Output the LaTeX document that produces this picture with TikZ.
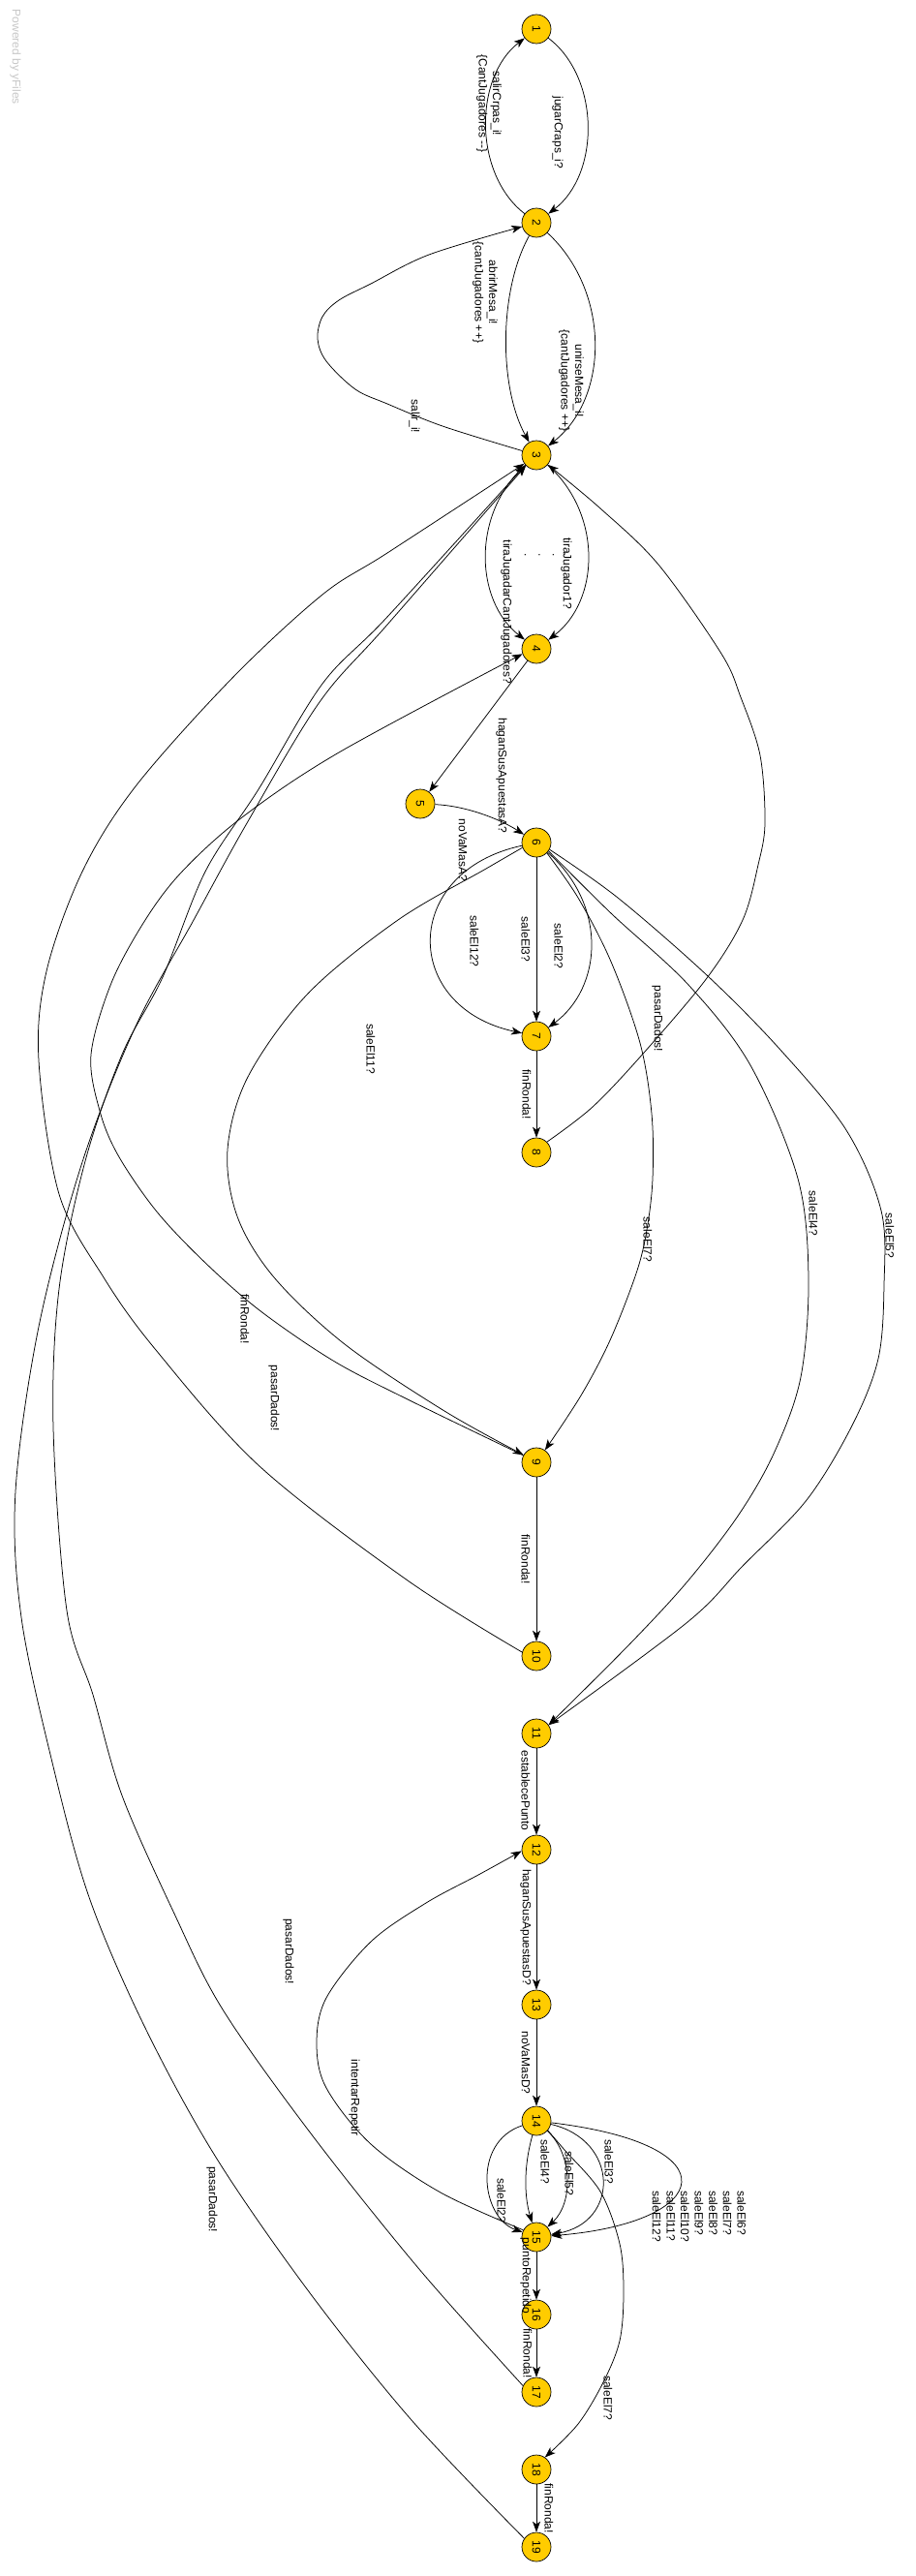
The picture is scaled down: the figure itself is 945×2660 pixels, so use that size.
\documentclass[tikz,border=0pt]{standalone}
\usepackage{fontspec}
\usepackage{graphicx}
\setmainfont{Liberation Sans}
\usetikzlibrary{arrows.meta}
\definecolor{stfill}{HTML}{FFCC00}
\definecolor{wmgrey}{HTML}{C8C8C8}
\newcommand\lblfont{\fontsize{12pt}{14.6pt}\selectfont}
\tikzset{
  st/.style={circle, draw=black, line width=0.7pt, fill=stfill, minimum size=30pt, inner sep=0pt, font=\lblfont},
  lbl/.style={rotate=-90, inner sep=0pt, font=\lblfont, align=center},
  arr/.style={draw=black, line width=0.75pt, -{Stealth[length=11pt,width=8pt,inset=3pt]}},
  sm/.style={smooth, tension=0.55}
}
\begin{document}
\begin{tikzpicture}[x=1pt,y=-1pt]
\fill[white] (0,0) rectangle (945,2660);
\useasboundingbox (0,0) rectangle (945,2660);

% watermark
\node[lbl, text=wmgrey] (wm) at (16,59) {Powered by yFiles};

% states
\node[st] (n1) at (554,30) {\rotatebox{-90}{1}};
\node[st] (n2) at (554,230) {\rotatebox{-90}{2}};
\node[st] (n3) at (554,470) {\rotatebox{-90}{3}};
\node[st] (n4) at (554,670) {\rotatebox{-90}{4}};
\node[st] (n5) at (434,830) {\rotatebox{-90}{5}};
\node[st] (n6) at (554,870) {\rotatebox{-90}{6}};
\node[st] (n7) at (554,1070) {\rotatebox{-90}{7}};
\node[st] (n8) at (554,1190) {\rotatebox{-90}{8}};
\node[st] (n9) at (554,1510) {\rotatebox{-90}{9}};
\node[st] (n10) at (554,1710) {\rotatebox{-90}{10}};
\node[st] (n11) at (554,1790) {\rotatebox{-90}{11}};
\node[st] (n12) at (554,1910) {\rotatebox{-90}{12}};
\node[st] (n13) at (554,2070) {\rotatebox{-90}{13}};
\node[st] (n14) at (554,2190) {\rotatebox{-90}{14}};
\node[st] (n15) at (554,2310) {\rotatebox{-90}{15}};
\node[st] (n16) at (554,2390) {\rotatebox{-90}{16}};
\node[st] (n17) at (554,2470) {\rotatebox{-90}{17}};
\node[st] (n18) at (554,2550) {\rotatebox{-90}{18}};
\node[st] (n19) at (554,2630) {\rotatebox{-90}{19}};

% edges
\draw[arr] (n1) .. controls (620,80) and (620,180) .. (n2);
\draw[arr] (n2) .. controls (489,180) and (489,80) .. (n1);
\draw[arr] (n2) .. controls (515,300) and (515,400) .. (n3);
\draw[arr] (n2) .. controls (630,300) and (630,410) .. (n3);
\draw[arr] plot[sm] coordinates {(n3.163) (457,440) (400,417) (367,402) (337,373) (328,350) (333,327) (350,310) (383,293) (443,263) (n2.195)};
\draw[arr] (n3) .. controls (622,530) and (620,620) .. (n4);
\draw[arr] (n3) .. controls (487,530) and (490,620) .. (n4);
\draw[arr] (n4) -- (n5);
\draw[arr] (n5) .. controls (480,832) and (515,845) .. (n6);
\draw[arr] (n6) -- (n7);
\draw[arr] (n6) .. controls (628,935) and (622,1020) .. (n7);
\draw[arr] (n6) .. controls (414,900) and (414,1040) .. (n7);
\draw[arr] (n7) -- (n8);
\draw[arr] plot[sm] coordinates {(n8.45) (612,1143) (665,1087) (730,1010) (767,950) (783,893) (790,850) (785,780) (765,720) (745,675) (680,583) (620,525) (n3.-40)};
\draw[arr] plot[sm] coordinates {(n6.-45) (597,927) (631,993) (661,1077) (673,1150) (674,1217) (668,1270) (657,1315) (630,1384) (600,1441) (n9.55)};
\draw[arr] plot[sm] coordinates {(n6.-35) (631,943) (711,1017) (775,1100) (824,1217) (835,1320) (827,1422) (800,1499) (763,1564) (710,1633) (650,1698) (n11.35)};
\draw[arr] plot[sm] coordinates {(n6.-28) (638,927) (730,1007) (805,1083) (874,1167) (910,1250) (913,1327) (907,1403) (880,1472) (833,1549) (767,1617) (710,1675) (n11.35)};
\draw[arr] plot[sm] coordinates {(n6.200) (502,897) (411,950) (318,1026) (256,1112) (235,1187) (245,1256) (283,1319) (356,1388) (459,1457) (n9.150)};
\draw[arr] plot[sm] coordinates {(n9.152) (421,1445) (344,1405) (268,1353) (210,1302) (161,1250) (122,1193) (103,1147) (94,1089) (115,1015) (150,950) (188,900) (250,844) (350,777) (n4.200)};
\draw[arr] (n9) -- (n10);
\draw[arr] plot[sm] coordinates {(n10.165) (421,1632) (268,1514) (161,1394) (107,1319) (61,1233) (40,1095) (48,1003) (85,900) (140,812) (240,700) (333,614) (400,571) (n3.215)};
\draw[arr] (n11) -- (n12);
\draw[arr] (n12) -- (n13);
\draw[arr] (n13) -- (n14);
\draw[arr] (n14) .. controls (487,2212) and (497,2290) .. (n15);
\draw[arr] (n14) .. controls (540,2240) and (542,2270) .. (n15);
\draw[arr] (n14) .. controls (592,2225) and (592,2275) .. (n15);
\draw[arr] (n14) .. controls (640,2210) and (640,2295) .. (n15);
\draw[arr] (n14) .. controls (760,2215) and (735,2295) .. (n15);
\draw[arr] plot[sm] coordinates {(n14.-40) (583,2220) (620,2263) (640,2317) (644,2367) (640,2417) (623,2460) (597,2503) (n18.55)};
\draw[arr] plot[sm] coordinates {(n15.152) (455,2264) (383,2214) (337,2156) (327,2110) (337,2063) (383,2005) (440,1965) (494,1936) (n12.185)};
\draw[arr] (n15) -- (n16);
\draw[arr] (n16) -- (n17);
\draw[arr] (n18) -- (n19);
\draw[arr] plot[sm] coordinates {(n17.155) (432,2342) (321,2203) (230,2075) (180,1976) (126,1854) (96,1750) (69,1663) (55,1474) (61,1331) (88,1199) (126,1089) (168,1009) (212,900) (267,815) (333,706) (400,637) (n3.222)};
\draw[arr] plot[sm] coordinates {(n19.145) (425,2499) (318,2365) (222,2226) (149,2092) (92,1959) (54,1820) (22,1670) (16,1540) (40,1370) (85,1200) (140,1060) (200,950) (255,850) (330,725) (400,645) (n3.225)};

% labels
\node[lbl] (l1) at (576,137) {jugarCraps\_i?};
\node[lbl] (l2) at (505,107) {salirCrpas\_i!\\\{CantJugadores -{}-\}};
\node[lbl] (l3) at (501,302) {abrirMesa\_i!\\\{cantJugadores ++\}};
\node[lbl] (l4) at (590,393) {unirseMesa\_i!\\\{cantJugadores ++\}};
\node[lbl] (l5) at (428,430) {salir\_i!};
\node[lbl] (l6) at (585,592) {tiraJugador1?};
\node[lbl] (l7) at (523,632) {tiraJugadarCantJugadores?};
\node[lbl] (l8) at (557,573) {.\\.\\.};
\node[lbl] (l9) at (518,801) {haganSusApuestasA?};
\node[lbl] (l10) at (478,878) {noVaMasA?};
\node[lbl] (l11) at (490,972) {saleEl12?};
\node[lbl] (l12) at (543,970) {saleEl3?};
\node[lbl] (l13) at (577,977) {saleEl2?};
\node[lbl] (l14) at (544,1130) {finRonda!};
\node[lbl] (l15) at (679,1052) {pasarDados!};
\node[lbl] (l16) at (669,1280) {saleEl7?};
\node[lbl] (l17) at (840,1253) {saleEl4?};
\node[lbl] (l18) at (919,1276) {saleEl5?};
\node[lbl] (l19) at (383,1083) {saleEl11?};
\node[lbl] (l20) at (253,1362) {finRonda!};
\node[lbl] (l21) at (283,1444) {pasarDados!};
\node[lbl] (l22) at (543,1610) {finRonda!};
\node[lbl] (l23) at (543,1849) {establecePunto};
\node[lbl] (l24) at (543,1990) {haganSusApuestasD?};
\node[lbl] (l25) at (543,2130) {noVaMasD?};
\node[lbl] (l26) at (366,2166) {intentarRepetir};
\node[lbl] (l27) at (298,2015) {pasarDados!};
\node[lbl] (l28) at (219,2271) {pasarDados!};
\node[lbl] (l29) at (518,2272) {saleEl2?};
\node[lbl] (l30) at (563,2232) {saleEl4?};
\node[lbl] (l31) at (588,2244) {saleEl5?};
\node[lbl] (l32) at (629,2232) {saleEl3?};
\node[lbl, align=left, anchor=west] (l33) at (722,2262) {saleEl6?\\saleEl7?\\saleEl8?\\saleEl9?\\saleEl10?\\saleEl11?\\saleEl12?};
\node[lbl] (l34) at (628,2476) {saleEl7?};
\node[lbl] (l35) at (543,2350) {puntoRepetido};
\node[lbl] (l36) at (545,2430) {finRonda!};
\node[lbl] (l37) at (567,2590) {finRonda!};
\end{tikzpicture}
\end{document}
